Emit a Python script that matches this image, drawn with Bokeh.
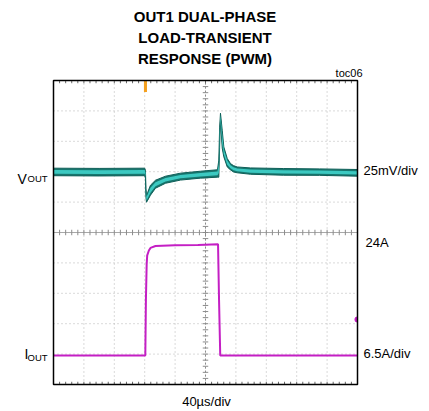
import numpy as np
from bokeh.plotting import figure
from bokeh.models import Range1d, Label, ColumnDataSource
from bokeh.embed import file_html
from bokeh.resources import INLINE

# ---------------- data ----------------
title_lines = ["OUT1 DUAL-PHASE", "LOAD-TRANSIENT", "RESPONSE (PWM)"]

# VOUT trace envelope (AC coupled, mV around the set point), time in µs
vout_t_us = [0, 60, 120, 121.0, 121.6, 122.4, 124.0, 127.6, 134.2, 147.4, 167.1,
             193.4, 215.8, 217.5, 218.6, 219.7, 222.0, 224.1, 228.6, 232.9,
             236.8, 241.7, 259.2, 302.6, 350, 400]
vout_upper_mv = [2.9, 2.7, 2.9, 1.2, -14.0, -19.3, -16.9, -11.1, -7.0, -3.7, -1.2,
                 0.4, 1.6, 9.5, 36.0, 48.1, 34.1, 20.4, 10.9, 6.7,
                 5.0, 3.9, 3.1, 2.6, 2.3, 1.8]
vout_lower_mv = [-3.3, -3.5, -3.3, -5.3, -21.0, -25.1, -23.4, -19.3, -13.6, -9.5, -6.9,
                 -5.3, -4.5, -4.5, 20.0, 42.0, 19.3, 12.2, 3.9, 1.5,
                 -0.2, -0.9, -2.1, -2.9, -3.0, -3.7]

# IOUT trace, A
iout_t_us = [0, 120.8, 121.6, 122.6, 123.3, 125.5, 127.6, 134.2, 160, 190,
             216.5, 217.8, 219.4, 300, 400]
iout_a = [0, 0, 12, 19.5, 21.4, 22.45, 23.0, 23.4, 23.55, 23.65,
          23.8, 12, 0, 0, 0]

# scope settings
time_per_div_us = 40
vout_mv_per_div = 25
iout_a_per_div = 6.5
n_div = 10
vout_ref_div = 7.0
iout_ref_div = 0.954
trigger_t_us = 121
iout_marker_div = 2.14

# ---------------- layout (pixels) ----------------
W, H = 421, 410
box_left, box_top, box_size = 53, 80, 304
px_per_div = box_size / n_div
us_per_px = time_per_div_us / px_per_div
box_bottom = box_top + box_size

x0 = (0 - box_left) * us_per_px
x1 = (W - box_left) * us_per_px
d0 = (box_bottom - H) / px_per_div
d1 = (box_bottom - 0) / px_per_div

p = figure(width=W, height=H, output_backend="svg", toolbar_location=None,
           x_axis_type=None, y_axis_type=None,
           x_range=Range1d(x0, x1), y_range=Range1d(d0, d1),
           min_border_left=0, min_border_right=0, min_border_top=0, min_border_bottom=0)
p.extra_y_ranges = {
    "vout": Range1d((d0 - vout_ref_div) * vout_mv_per_div, (d1 - vout_ref_div) * vout_mv_per_div),
    "iout": Range1d((d0 - iout_ref_div) * iout_a_per_div, (d1 - iout_ref_div) * iout_a_per_div),
}
p.outline_line_color = None
p.background_fill_color = "white"
p.border_fill_color = "white"
p.xgrid.visible = False
p.ygrid.visible = False

x_end = time_per_div_us * n_div

# graticule
grid_x = np.arange(time_per_div_us, x_end, time_per_div_us)
grid_y = np.arange(1, n_div)
p.segment(x0=grid_x, y0=np.zeros(len(grid_x)), x1=grid_x, y1=np.full(len(grid_x), n_div),
          line_color="#b4b4b4", line_dash="1 3", line_width=1)
p.segment(x0=np.zeros(len(grid_y)), y0=grid_y, x1=np.full(len(grid_y), x_end), y1=grid_y,
          line_color="#b4b4b4", line_dash="1 3", line_width=1)

# center lines
p.line([0, x_end], [n_div / 2, n_div / 2], line_color="#a8a8a8", line_width=1)
p.line([x_end / 2, x_end / 2], [0, n_div], line_color="#8c8c8c", line_width=1, line_dash="2 2")

# minor ticks
minor_x = np.arange(0, x_end + 0.01, time_per_div_us / 5)
minor_y = np.arange(0, n_div + 0.001, 0.2)
tk = 0.09
p.segment(x0=minor_x, y0=np.full(len(minor_x), n_div), x1=minor_x,
          y1=np.full(len(minor_x), n_div - tk), line_color="#666666", line_width=1)
p.segment(x0=minor_x, y0=np.zeros(len(minor_x)), x1=minor_x,
          y1=np.full(len(minor_x), tk), line_color="#666666", line_width=1)
p.segment(x0=minor_x, y0=np.full(len(minor_x), n_div / 2 - tk), x1=minor_x,
          y1=np.full(len(minor_x), n_div / 2 + tk), line_color="#8c8c8c", line_width=1)
tkx = tk * time_per_div_us
p.segment(x0=np.full(len(minor_y), x_end / 2 - tkx), y0=minor_y,
          x1=np.full(len(minor_y), x_end / 2 + tkx), y1=minor_y,
          line_color="#8c8c8c", line_width=1)

# VOUT trace
up = np.array(vout_upper_mv)
lo = np.array(vout_lower_mv)
mid = (up + lo) / 2
hw = (up - lo) / 4
src_v = ColumnDataSource(dict(t=vout_t_us, up=up, lo=lo, iup=mid + hw, ilo=mid - hw))
p.varea(x="t", y1="lo", y2="up", source=src_v, fill_color="#17766e", y_range_name="vout")
p.line(x="t", y="up", source=src_v, line_color="#0e5f58", line_width=1, y_range_name="vout")
p.line(x="t", y="lo", source=src_v, line_color="#0e5f58", line_width=1, y_range_name="vout")
p.varea(x="t", y1="ilo", y2="iup", source=src_v, fill_color="#3cc9c1", y_range_name="vout")

# IOUT trace
p.line(iout_t_us, iout_a, line_color="#c41fc4", line_width=2, y_range_name="iout")

# trigger marker and channel marker
p.quad(left=[trigger_t_us - 2], right=[trigger_t_us + 2], top=[n_div], bottom=[n_div - 0.38],
       fill_color="#f5a01e", line_color=None)
p.wedge(x=[x_end], y=[iout_marker_div], radius=3 * us_per_px,
        start_angle=np.pi / 2, end_angle=3 * np.pi / 2,
        fill_color="#c41fc4", line_color=None)

# box outline
p.quad(left=[0], right=[x_end], bottom=[0], top=[n_div], fill_color=None,
       line_color="black", line_width=1.5)

# ---------------- texts ----------------
def px_x(px):
    return (px - box_left) * us_per_px

def px_y(py):
    return (box_bottom - py) / px_per_div

def lab(x, y, text, size, align="left", baseline="middle", bold=False, font="Liberation Sans"):
    p.add_layout(Label(x=px_x(x), y=px_y(y), text=text, text_font=font, text_font_size=size,
                       text_align=align, text_baseline=baseline,
                       text_font_style="bold" if bold else "normal", text_color="black"))

for i, line in enumerate(title_lines):
    lab(204.5, 15.5 + i * 21, line, "15px", align="center", bold=True)
lab(362, 72, "toc06", "11px", align="right")
lab(17, 178.3, "V", "14px", baseline="alphabetic")
lab(27, 178.3, "OUT", "9.5px", baseline="alphabetic")
lab(24, 353.3, "I", "14px", baseline="alphabetic")
lab(27, 356.7, "OUT", "9.5px", baseline="alphabetic")
lab(363, 170, "25mV/div", "13px")
lab(365, 242, "24A", "13px")
lab(363, 353, "6.5A/div", "13px")
lab(206, 401, "40µs/div", "13px", align="center")

open("out.html", "w").write(file_html(p, INLINE))
